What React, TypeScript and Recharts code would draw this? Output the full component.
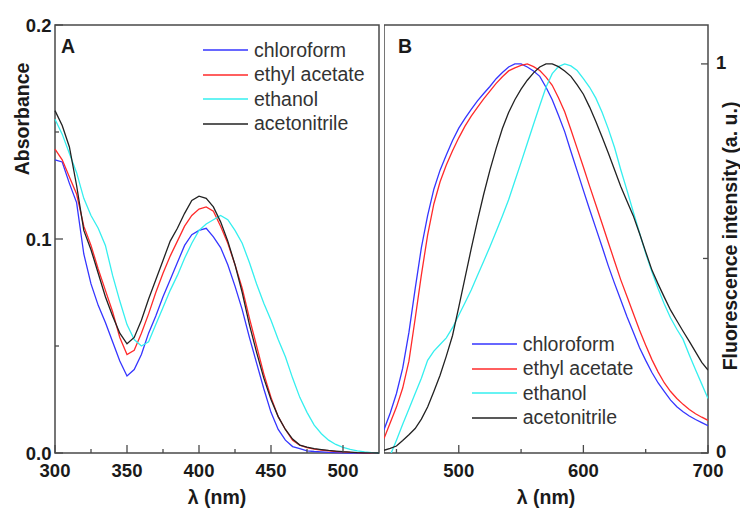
import { Legend, Line, LineChart, ReferenceArea, XAxis, YAxis } from 'recharts';

const FONT = '"Liberation Sans", Arial, sans-serif';
const FRAME = '#4a4a4a';

const seriesKeys = ['chloroform', 'ethylAcetate', 'ethanol', 'acetonitrile'];
const seriesNames = ['chloroform', 'ethyl acetate', 'ethanol', 'acetonitrile'];
const seriesColors = ['#3535ff', '#ff2a2a', '#35efef', '#222222'];

// A: absorption spectra (300-525 nm)
const absWavelengths = [
  300, 305, 310, 315, 320, 325, 330, 335, 340, 345, 350, 355, 360, 365, 370, 375, 380, 385, 390, 395,
  400, 405, 410, 415, 420, 425, 430, 435, 440, 445, 450, 455, 460, 465, 470, 475, 480, 485, 490, 495,
  500, 505, 510, 515, 520, 525,
];
const absChloroform = [
  0.137, 0.136, 0.126, 0.117, 0.093, 0.079, 0.069, 0.061, 0.052, 0.043, 0.036, 0.039, 0.046, 0.056, 0.064, 0.073, 0.081, 0.089, 0.097, 0.102,
  0.104, 0.105, 0.101, 0.096, 0.088, 0.078, 0.067, 0.054, 0.042, 0.03, 0.019, 0.011, 0.006, 0.003, 0.002, 0.001, 0.0007, 0.0005, 0.0003, 0.0002,
  0.0001, 0, 0, 0, 0, 0,
];
const absEthylAcetate = [
  0.142, 0.137, 0.129, 0.121, 0.106, 0.097, 0.086, 0.076, 0.066, 0.054, 0.046, 0.048, 0.056, 0.065, 0.075, 0.084, 0.092, 0.099, 0.106, 0.111,
  0.114, 0.115, 0.113, 0.106, 0.098, 0.088, 0.077, 0.063, 0.05, 0.037, 0.026, 0.017, 0.011, 0.006, 0.0037, 0.0025, 0.0018, 0.0014, 0.001, 0.0007,
  0.0005, 0.0003, 0.0002, 0.0001, 0, 0,
];
const absEthanol = [
  0.156, 0.149, 0.14, 0.131, 0.119, 0.111, 0.105, 0.097, 0.083, 0.071, 0.06, 0.053, 0.05, 0.052, 0.06, 0.068, 0.076, 0.083, 0.091, 0.098,
  0.104, 0.107, 0.109, 0.111, 0.109, 0.104, 0.098, 0.089, 0.079, 0.07, 0.062, 0.053, 0.045, 0.035, 0.026, 0.019, 0.013, 0.009, 0.006, 0.004,
  0.0026, 0.0017, 0.001, 0.0005, 0.0002, 0,
];
const absAcetonitrile = [
  0.16, 0.153, 0.143, 0.125, 0.104, 0.095, 0.084, 0.073, 0.064, 0.056, 0.051, 0.054, 0.062, 0.072, 0.081, 0.09, 0.099, 0.105, 0.112, 0.118,
  0.12, 0.119, 0.115, 0.108, 0.099, 0.088, 0.075, 0.06, 0.047, 0.035, 0.025, 0.017, 0.011, 0.0065, 0.0037, 0.0027, 0.002, 0.0016, 0.0012, 0.0009,
  0.0006, 0.0004, 0.0002, 0.0001, 0.0001, 0,
];
const absXTicks = [300, 325, 350, 375, 400, 425, 450, 475, 500];
const absYTicks = [0, 0.05, 0.1, 0.15, 0.2];

// B: normalised fluorescence spectra (440-700 nm)
const flWavelengths = [
  440, 445, 450, 455, 460, 465, 470, 475, 480, 485, 490, 495, 500, 505, 510, 515, 520, 525, 530, 535,
  540, 545, 550, 555, 560, 565, 570, 575, 580, 585, 590, 595, 600, 605, 610, 615, 620, 625, 630, 635,
  640, 645, 650, 655, 660, 665, 670, 675, 680, 685, 690, 695, 700,
];
const flChloroform = [
  0.06, 0.103, 0.153, 0.218, 0.31, 0.422, 0.528, 0.61, 0.678, 0.727, 0.766, 0.803, 0.835, 0.86, 0.883, 0.905, 0.924, 0.942, 0.962, 0.978,
  0.992, 1.0, 1.0, 0.992, 0.982, 0.968, 0.94, 0.908, 0.868, 0.826, 0.775, 0.725, 0.675, 0.626, 0.578, 0.53, 0.481, 0.436, 0.393, 0.35,
  0.311, 0.271, 0.238, 0.207, 0.18, 0.158, 0.136, 0.119, 0.106, 0.095, 0.086, 0.078, 0.07,
];
const flEthylAcetate = [
  0.037, 0.078, 0.118, 0.167, 0.236, 0.345, 0.458, 0.56, 0.64, 0.697, 0.74, 0.777, 0.81, 0.84, 0.866, 0.888, 0.91, 0.93, 0.95, 0.967,
  0.982, 0.99, 0.996, 1.0, 0.993, 0.983, 0.966, 0.945, 0.913, 0.877, 0.831, 0.783, 0.735, 0.686, 0.638, 0.59, 0.541, 0.493, 0.445, 0.402,
  0.359, 0.316, 0.277, 0.24, 0.208, 0.18, 0.158, 0.14, 0.125, 0.112, 0.101, 0.092, 0.084,
];
const flEthanol = [
  -0.04, -0.006, 0.033, 0.074, 0.113, 0.153, 0.192, 0.238, 0.262, 0.279, 0.296, 0.322, 0.354, 0.386, 0.419, 0.456, 0.493, 0.53, 0.569, 0.609,
  0.651, 0.699, 0.747, 0.796, 0.845, 0.893, 0.94, 0.975, 0.993, 1.0, 0.995, 0.983, 0.962, 0.94, 0.912, 0.876, 0.833, 0.785, 0.728, 0.675,
  0.62, 0.566, 0.513, 0.466, 0.422, 0.382, 0.347, 0.318, 0.292, 0.252, 0.214, 0.177, 0.14,
];
const flAcetonitrile = [
  0.007, 0.012, 0.018, 0.032, 0.047, 0.063, 0.087, 0.118, 0.158, 0.2, 0.249, 0.302, 0.375, 0.45, 0.525, 0.597, 0.665, 0.727, 0.783, 0.834,
  0.875, 0.908, 0.935, 0.958, 0.977, 0.992, 1.0, 1.0, 0.993, 0.982, 0.968, 0.946, 0.922, 0.889, 0.852, 0.812, 0.771, 0.728, 0.685, 0.647,
  0.61, 0.565, 0.517, 0.47, 0.434, 0.4, 0.367, 0.34, 0.313, 0.287, 0.26, 0.233, 0.213,
];
const flXTicks = [450, 500, 550, 600, 650, 700];
const flYTicks = [0, 0.5, 1];

const absData = absWavelengths.map((w, i) => ({
  w,
  chloroform: absChloroform[i],
  ethylAcetate: absEthylAcetate[i],
  ethanol: absEthanol[i],
  acetonitrile: absAcetonitrile[i],
}));

const flData = flWavelengths.map((w, i) => ({
  w,
  chloroform: flChloroform[i],
  ethylAcetate: flEthylAcetate[i],
  ethanol: flEthanol[i],
  acetonitrile: flAcetonitrile[i],
}));

const tickText = { fontFamily: FONT, fontSize: 18.5, fontWeight: 700, fill: '#1a1a1a' };

// inward ticks, long for labelled values, short for the rest
const BottomTick = ({ x, y, payload, step }: any) => {
  const major = payload.value % step === 0;
  return (
    <g>
      <line x1={x} x2={x} y1={y} y2={y - (major ? 8 : 4)} stroke={FRAME} strokeWidth={1.3} />
      {major && (
        <text x={x} y={y + 24} textAnchor="middle" {...tickText}>
          {payload.value}
        </text>
      )}
    </g>
  );
};

const LeftTick = ({ x, y, payload }: any) => {
  const major = Math.round(payload.value * 100) % 10 === 0;
  return (
    <g>
      <line x1={x} x2={x + (major ? 8 : 4)} y1={y} y2={y} stroke={FRAME} strokeWidth={1.3} />
      {major && (
        <text x={x - 3.5} y={y} dy="0.36em" textAnchor="end" {...tickText}>
          {payload.value.toFixed(1)}
        </text>
      )}
    </g>
  );
};

const RightTick = ({ x, y, payload }: any) => {
  const major = payload.value % 1 === 0;
  return (
    <g>
      <line x1={x} x2={x - (major ? 7 : 5)} y1={y} y2={y} stroke={FRAME} strokeWidth={1.3} />
      {major && (
        <text x={x + 8} y={y} dy="0.28em" textAnchor="start" {...tickText}>
          {payload.value}
        </text>
      )}
    </g>
  );
};

// keep the legend in series order (recharts sorts it by name otherwise)
const LegendBox = ({ payload }: any) => {
  const items = [...(payload || [])].sort(
    (a: any, b: any) => seriesNames.indexOf(a.value) - seriesNames.indexOf(b.value),
  );
  return (
    <div style={{ fontFamily: FONT, fontSize: 19.5, color: '#333' }}>
      {items.map((e: any) => (
        <div key={e.value} style={{ display: 'flex', alignItems: 'center', height: 24.6, lineHeight: '24.6px' }}>
          <svg width={45} height={4}>
            <line x1={0} x2={45} y1={2} y2={2} stroke={e.color} strokeWidth={1.5} />
          </svg>
          <span style={{ marginLeft: 6, whiteSpace: 'nowrap' }}>{e.value}</span>
        </div>
      ))}
    </div>
  );
};

const seriesLines = () =>
  seriesKeys.map((k, i) => (
    <Line
      key={k}
      type="linear"
      dataKey={k}
      name={seriesNames[i]}
      stroke={seriesColors[i]}
      strokeWidth={1.3}
      dot={false}
      isAnimationActive={false}
    />
  ));

const title = { fontFamily: FONT, fontSize: 19.5, fontWeight: 700, fill: '#1a1a1a' };

export default function App() {
  return (
    <div style={{ position: 'absolute', left: 0, top: 0, width: 740, height: 509, background: '#fff' }}>
      <div style={{ position: 'absolute', left: 0, top: 0 }}>
        <LineChart width={380} height={509} data={absData} margin={{ top: 25, right: 1, bottom: 26, left: 0 }}>
          <XAxis
            dataKey="w"
            type="number"
            domain={[300, 525]}
            ticks={absXTicks}
            interval={0}
            height={30}
            axisLine={false}
            tickLine={false}
            tickSize={0}
            tickMargin={0}
            tick={(p: any) => <BottomTick {...p} step={50} />}
          />
          <YAxis
            type="number"
            domain={[0, 0.2]}
            ticks={absYTicks}
            interval={0}
            width={55}
            axisLine={false}
            tickLine={false}
            tickSize={0}
            tickMargin={0}
            tick={(p: any) => <LeftTick {...p} />}
          />
          <ReferenceArea x1={300} x2={525} y1={0} y2={0.2} fill="none" stroke={FRAME} strokeWidth={1.5} />
          {seriesLines()}
          <Legend
            layout="vertical"
            align="center"
            verticalAlign="middle"
            content={LegendBox}
            wrapperStyle={{ left: 203, top: 37.7, width: 'auto', height: 'auto' }}
          />
        </LineChart>
      </div>
      <div style={{ position: 'absolute', left: 384, top: 0 }}>
        <LineChart width={356} height={509} data={flData} margin={{ top: 25, right: 0, bottom: 26, left: 0 }}>
          <XAxis
            dataKey="w"
            type="number"
            domain={[440, 700]}
            ticks={flXTicks}
            interval={0}
            height={30}
            allowDataOverflow
            axisLine={false}
            tickLine={false}
            tickSize={0}
            tickMargin={0}
            tick={(p: any) => <BottomTick {...p} step={100} />}
          />
          <YAxis
            orientation="right"
            type="number"
            domain={[0, 1.1]}
            ticks={flYTicks}
            interval={0}
            width={32}
            allowDataOverflow
            axisLine={false}
            tickLine={false}
            tickSize={0}
            tickMargin={0}
            tick={(p: any) => <RightTick {...p} />}
          />
          <ReferenceArea x1={440} x2={700} y1={0} y2={1.1} fill="none" stroke={FRAME} strokeWidth={1.5} />
          {seriesLines()}
          <Legend
            layout="vertical"
            align="center"
            verticalAlign="middle"
            content={LegendBox}
            wrapperStyle={{ left: 87.7, top: 331.7, width: 'auto', height: 'auto' }}
          />
        </LineChart>
      </div>
      <svg width={740} height={509} style={{ position: 'absolute', left: 0, top: 0, pointerEvents: 'none' }}>
        <text x={61} y={53} {...title}>A</text>
        <text x={398} y={53} {...title}>B</text>
        <text transform="translate(29,119) rotate(-90)" textAnchor="middle" {...title}>Absorbance</text>
        <text transform="translate(737,236) rotate(-90)" textAnchor="middle" {...title}>Fluorescence intensity (a. u.)</text>
        <text x={217} y={504} textAnchor="middle" {...title}>λ (nm)</text>
        <text x={546} y={504} textAnchor="middle" {...title}>λ (nm)</text>
      </svg>
    </div>
  );
}
